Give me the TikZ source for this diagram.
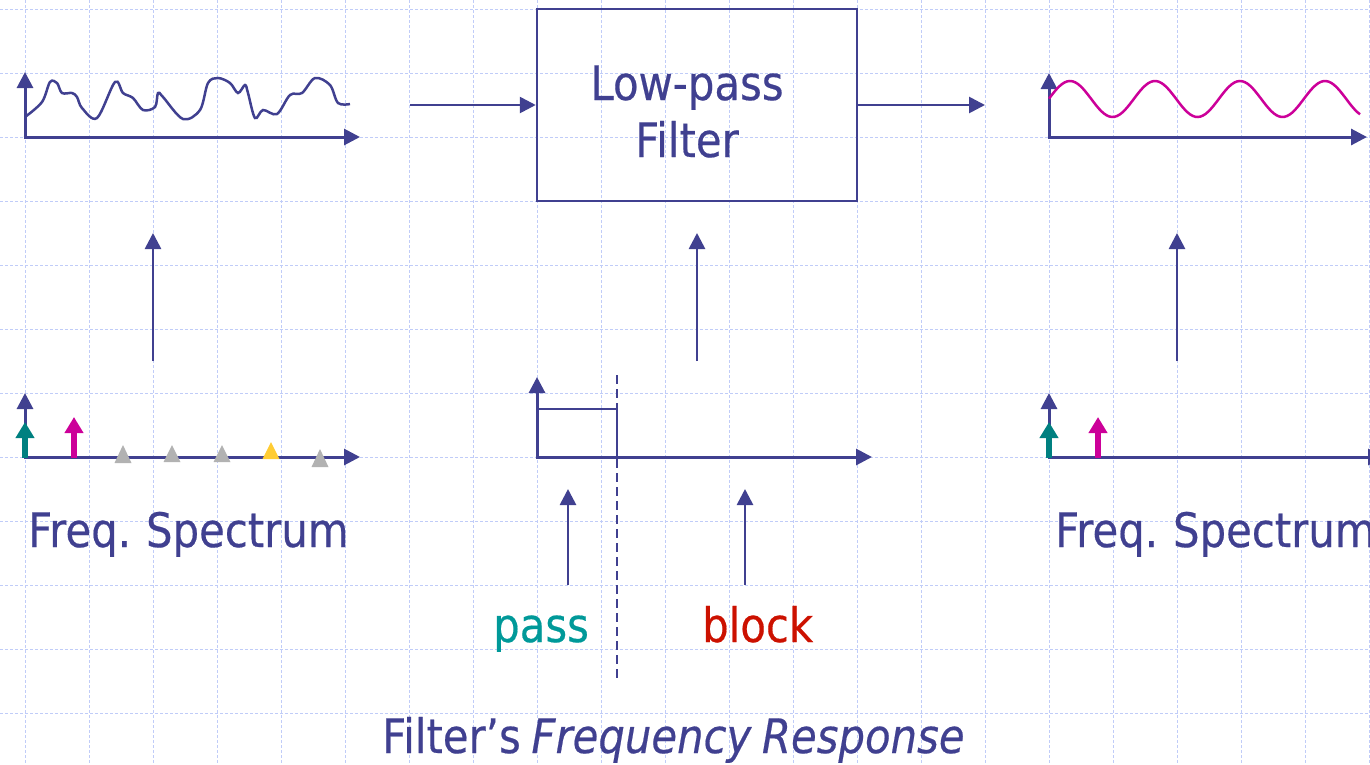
\documentclass[tikz,border=0pt]{standalone}
\usepackage{fontspec}
\setmainfont{DejaVu Sans}[FakeStretch=0.88, FakeBold=0.4, WordSpace=0.8]
\usetikzlibrary{arrows.meta}
\definecolor{ink}{RGB}{64,64,144}
\definecolor{gridc}{RGB}{192,204,248}
\definecolor{tealc}{RGB}{0,128,128}
\definecolor{magc}{RGB}{204,0,153}
\definecolor{yelc}{RGB}{255,204,51}
\definecolor{grayc}{RGB}{178,178,178}
\definecolor{passc}{RGB}{0,153,153}
\definecolor{blockc}{RGB}{204,17,0}
\tikzset{
  gridline/.style={gridc, line width=1pt, dash pattern=on 3pt off 2pt},
  axis/.style={ink, line width=3pt, -{Triangle[length=16pt,width=16pt]}},
  conn/.style={ink, line width=2.7pt, -{Triangle[length=16pt,width=16pt]}},
  wave/.style={line width=2.5pt, smooth, tension=0.55},
  bigtxt/.style={inner sep=0pt, anchor=base west, font=\fontsize{47.5}{57}\selectfont, text=ink},
  spike/.style={line width=6pt, -{Triangle[length=16pt,width=18pt]}},
  boxstyle/.style={draw=ink, line width=2.5pt, minimum width=320pt, minimum height=192pt, inner sep=0pt},
}
\begin{document}
\begin{tikzpicture}[x=1pt,y=-1pt]
\useasboundingbox (0,0) rectangle (1370,764);
\clip (0,0) rectangle (1370,764);
% background grid
\foreach \gx in {25,89,...,1369} \draw[gridline] (\gx,0) -- (\gx,764);
\foreach \gy in {9,73,...,713} \draw[gridline] (0,\gy) -- (1370,\gy);

% ---- top-left time signal
\draw[axis] (25,138) -- (25,72);
\draw[axis] (23.5,137) -- (360,137);
\draw[wave, ink] plot coordinates {(25,117) (42,102) (50,82) (57,83) (62,93) (72,93) (77,97) (82,108) (97,118) (115,82) (123,93) (133,98) (143,110) (155,107) (158,93) (163,97) (183,119) (200,110) (208,83) (218,78) (230,83) (238,93) (245,85) (248,93) (255,118) (263,110) (277,114) (290,95) (302,93) (315,78) (330,85) (338,103) (350,104)};

% ---- top-right time signal
\draw[axis] (1049,138) -- (1049,73);
\draw[axis] (1047.5,137) -- (1367,137);
\draw[line width=2.5pt, magc, domain=0:311, samples=120] plot ({1049+\x}, {99 - 18*sin(4.23529*(\x+0.25))});

% ---- filter box and connectors
\node[boxstyle] (filter) at (697,105) {};
\node[bigtxt, anchor=base] (lp) at (687,100) {Low-pass};
\node[bigtxt, anchor=base] (ft) at (687,157) {Filter};
\coordinate (inL) at (410,105);
\coordinate (outR) at (985,105);
\draw[conn] (inL) -- (filter.west);
\draw[conn] (filter.east) -- (outR);

% vertical connectors
\coordinate (u1s) at (153,361); \coordinate (u1e) at (153,233);
\coordinate (u2s) at (697,361); \coordinate (u2e) at (697,233);
\coordinate (u3s) at (1177,361); \coordinate (u3e) at (1177,233);
\draw[conn] (u1s) -- (u1e);
\draw[conn] (u2s) -- (u2e);
\draw[conn] (u3s) -- (u3e);

% ---- left spectrum
\draw[axis] (25,458) -- (25,393);
\draw[axis] (23.5,457) -- (360,457);
\draw[spike, tealc] (25,458) -- (25,422);
\draw[spike, magc] (74,458) -- (74,417);
\foreach \tx/\ttop/\tbot/\tc in {123/445/463/grayc, 172/445/462/grayc, 222/445/462/grayc, 271/442/459/yelc, 320/449/467/grayc}
  \fill[\tc] (\tx-8.5,\tbot) -- (\tx+8.5,\tbot) -- (\tx,\ttop) -- cycle;
\node[bigtxt] (fs1) at (28,547) {Freq. Spectrum};

% ---- right spectrum
\draw[axis] (1049,458) -- (1049,393);
\draw[axis] (1047.5,457) -- (1384,457);
\draw[spike, tealc] (1049,458) -- (1049,422);
\draw[spike, magc] (1098,458) -- (1098,417);
\node[bigtxt] (fs2) at (1055,547) {Freq. Spectrum};

% ---- frequency response
\draw[axis] (537,458) -- (537,377);
\draw[axis] (535.5,457) -- (872,457);
\draw[ink, line width=2pt] (537,409) -- (617,409) -- (617,457);
\draw[ink, line width=2pt, dash pattern=on 9pt off 5pt] (617,375) -- (617,680);
\coordinate (ps) at (568,585); \coordinate (pe) at (568,489);
\coordinate (bs) at (745,585); \coordinate (be) at (745,489);
\draw[conn] (ps) -- (pe);
\draw[conn] (bs) -- (be);
\node[bigtxt, text=passc] (pass) at (493,642) {pass};
\node[bigtxt, text=blockc] (block) at (702,642) {block};
\node[bigtxt] (cap) at (382,753) {Filter’s \textit{Frequency Response}};
\end{tikzpicture}
\end{document}
